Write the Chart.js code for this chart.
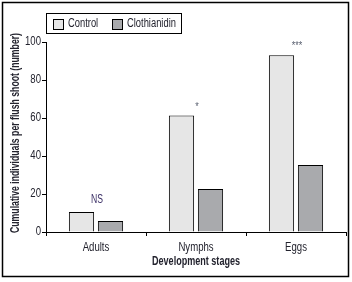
<!DOCTYPE html>
<html>
<head>
<meta charset="utf-8">
<script src="https://cdn.jsdelivr.net/npm/chart.js@4/dist/chart.umd.min.js"></script>
<style>
  html, body { margin: 0; padding: 0; background: #fff; }
  #wrap { width: 352px; height: 282px; position: relative; }
</style>
</head>
<body>
<div id="wrap"><canvas id="stages" width="352" height="282"></canvas></div>
<script>
const stages = ['Adults', 'Nymphs', 'Eggs'];
const control = [10.5, 61.3, 93];
const clothianidin = [5.8, 22.6, 35.3];
const significance = ['NS', '*', '***'];
const yTicks = [0, 20, 40, 60, 80, 100];

const FONT = '"Liberation Sans", Arial, sans-serif';
const INK = '#23232e';

// the original uses a narrow face; squeeze Liberation Sans horizontally
function narrowText(ctx, text, x, y, sx, align) {
    const w = ctx.measureText(text).width * sx;
    let left = x;
    if (align === 'center') left = x - w / 2;
    if (align === 'right') left = x - w;
    ctx.save();
    ctx.translate(left, y);
    ctx.scale(sx, 1);
    ctx.textAlign = 'left';
    ctx.fillText(text, 0, 0);
    ctx.restore();
}

const extras = {
    id: 'extras',
    afterDraw(chart) {
        const ctx = chart.ctx;
        const x = chart.scales.x, y = chart.scales.y;
        ctx.save();
        ctx.strokeStyle = '#000';
        ctx.lineWidth = 1.5;
        ctx.strokeRect(2.5, 2.5, 346, 274);

        ctx.fillStyle = INK;
        ctx.textBaseline = 'middle';

        // tick labels
        ctx.font = '12px ' + FONT;
        yTicks.forEach(v => narrowText(ctx, String(v), 41, y.getPixelForValue(v), 0.8, 'right'));
        stages.forEach((s, i) => narrowText(ctx, s, x.getPixelForValue(i), 248, 0.8, 'center'));

        // axis titles
        ctx.font = 'bold 12px ' + FONT;
        const xt = 'Development stages';
        narrowText(ctx, xt, x.getPixelForValue(1), 262, 88 / ctx.measureText(xt).width, 'center');
        const yt = 'Cumulative individuals per flush shoot (number)';
        ctx.save();
        ctx.translate(16, 133);
        ctx.rotate(-Math.PI / 2);
        narrowText(ctx, yt, 0, 0, 200 / ctx.measureText(yt).width, 'center');
        ctx.restore();

        // legend box
        ctx.lineWidth = 1;
        ctx.strokeRect(46.5, 13.5, 135, 20);
        ctx.font = '12px ' + FONT;
        const lx = [53, 112];
        chart.data.datasets.forEach((ds, i) => {
            ctx.fillStyle = ds.backgroundColor;
            ctx.fillRect(lx[i] + 0.5, 19.5, 10, 10);
            ctx.strokeStyle = '#000';
            ctx.strokeRect(lx[i] + 0.5, 19.5, 10, 10);
            ctx.fillStyle = INK;
            narrowText(ctx, ds.label, lx[i] + 15, 24, 0.78, 'left');
        });

        // significance labels
        significance.forEach((s, i) => {
            const top = y.getPixelForValue(Math.max(control[i], clothianidin[i]));
            const cx = x.getPixelForValue(i);
            if (s === 'NS') {
                ctx.fillStyle = '#3b2f66';
                ctx.font = '12px ' + FONT;
                ctx.textBaseline = 'middle';
                narrowText(ctx, s, cx + 1, top - 12.5, 0.72, 'center');
            } else {
                ctx.fillStyle = '#5a6070';
                ctx.font = '10px ' + FONT;
                ctx.textBaseline = 'alphabetic';
                narrowText(ctx, s, cx + 1, top - 6, 0.9, 'center');
            }
        });
        ctx.restore();
    }
};

new Chart(document.getElementById('stages').getContext('2d'), {
    type: 'bar',
    data: {
        labels: stages,
        datasets: [
            { label: 'Control', data: control, backgroundColor: '#e6e6e6', borderColor: '#000', borderWidth: 1 },
            { label: 'Clothianidin', data: clothianidin, backgroundColor: '#a9aaad', borderColor: '#000', borderWidth: 1 }
        ]
    },
    options: {
        responsive: false,
        animation: false,
        events: [],
        layout: { padding: { left: 0, top: 42, right: 6, bottom: 0 } },
        categoryPercentage: 0.58,
        barPercentage: 0.87,
        plugins: { legend: { display: false }, tooltip: { enabled: false } },
        scales: {
            x: {
                afterFit: s => { s.height = 50; },
                border: { color: '#000', width: 1 },
                grid: { display: true, drawOnChartArea: false, drawTicks: true, tickLength: 4, color: '#000', offset: true },
                ticks: { display: false }
            },
            y: {
                min: 0, max: 100,
                afterFit: s => { s.width = 46; },
                afterBuildTicks: s => { s.ticks = yTicks.map(v => ({ value: v })); },
                border: { color: '#000', width: 1 },
                grid: { display: true, drawOnChartArea: false, drawTicks: true, tickLength: 4, color: '#000' },
                ticks: { display: false }
            }
        }
    },
    plugins: [extras]
});
</script>
</body>
</html>
